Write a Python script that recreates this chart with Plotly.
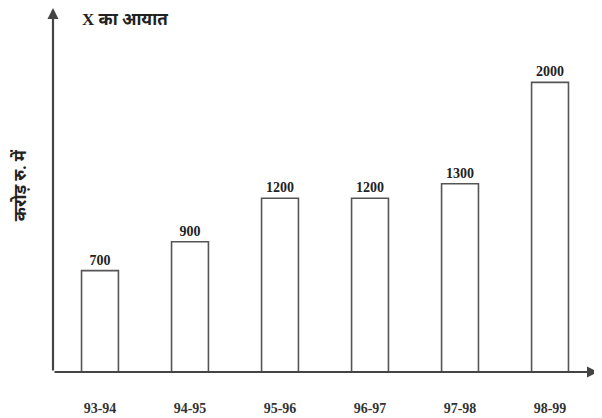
import plotly.graph_objects as go

years = ["93-94", "94-95", "95-96", "96-97", "97-98", "98-99"]
imports = [700, 900, 1200, 1200, 1300, 2000]
value_labels = ["700", "900", "1200", "1200", "1300", "2000"]
title_text = "X का आयात"
y_title = "करोड़ रु. में"

fig = go.Figure()
fig.add_trace(go.Bar(
    x=list(range(len(years))), y=imports,
    width=0.41,
    marker=dict(color="white", line=dict(color="#555555", width=1.6)),
    text=value_labels, textposition="outside", cliponaxis=False,
    textfont=dict(family="Liberation Serif", size=14, color="#222222"),
    texttemplate="<b>%{text}</b>",
))

fig.update_layout(
    width=602, height=418,
    margin=dict(l=45, r=12, t=0, b=53.5),
    paper_bgcolor="white", plot_bgcolor="white",
    showlegend=False,
    xaxis=dict(range=[-0.522, 5.533], tickmode="array",
               tickvals=list(range(len(years))),
               ticktext=["<b>%s</b>" % y for y in years],
               showline=False, showgrid=False, zeroline=False,
               ticks="", ticklabelstandoff=26,
               tickfont=dict(family="Liberation Serif", size=14, color="#333333")),
    yaxis=dict(range=[0, 2514], showline=False, showgrid=False,
               zeroline=False, showticklabels=False, ticks=""),
)

# axes with arrows
fig.add_annotation(xref="x domain", yref="y domain", axref="x domain", ayref="y domain",
                   x=0, y=1.0, ax=0, ay=0, text="", showarrow=True,
                   arrowhead=2, arrowsize=1, arrowwidth=2.2, arrowcolor="#444444")
fig.add_annotation(xref="x domain", yref="y domain", axref="x domain", ayref="y domain",
                   x=1.0, y=0, ax=0, ay=0, text="", showarrow=True,
                   arrowhead=2, arrowsize=1, arrowwidth=2.2, arrowcolor="#444444")

fig.add_annotation(xref="paper", yref="paper", x=0.05, y=1.0,
                   xanchor="left", yanchor="top", showarrow=False,
                   text="<b>%s</b>" % title_text,
                   font=dict(family="Liberation Serif, Noto Sans", size=17, color="#222222"))
fig.add_annotation(xref="paper", yref="paper", x=-0.06, y=0.514,
                   xanchor="center", yanchor="middle", showarrow=False,
                   textangle=-90, text="<b>%s</b>" % y_title,
                   font=dict(family="Liberation Serif, Noto Sans", size=17, color="#222222"))

fig.write_html("out.html")
